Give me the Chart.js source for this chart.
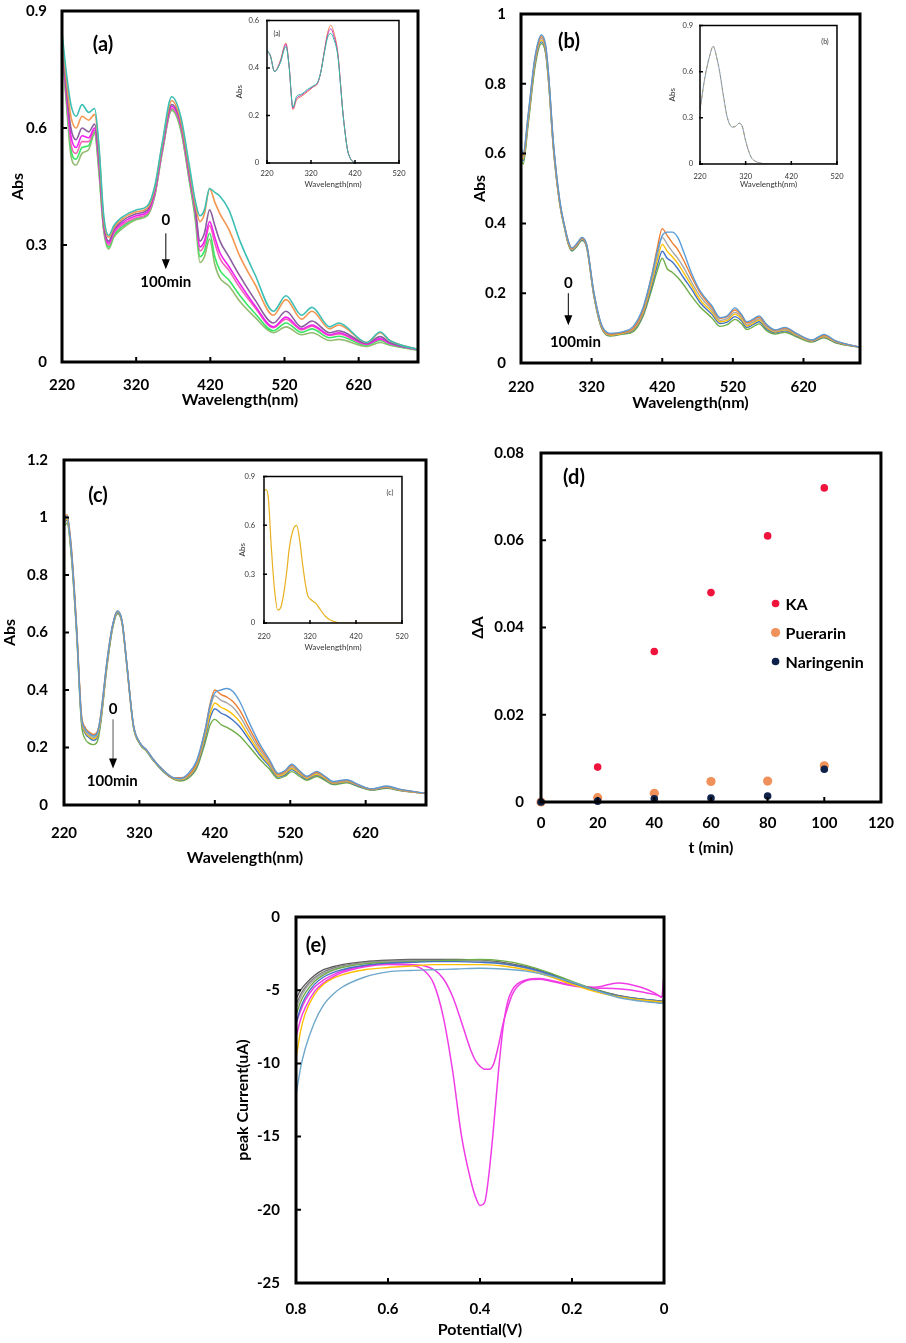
<!DOCTYPE html>
<html>
<head>
<meta charset="utf-8">
<script src="https://cdn.jsdelivr.net/npm/chart.js@4.4.0/dist/chart.umd.min.js"></script>
<style>
  body { margin: 0; width: 906px; height: 1343px; background: #fff; position: relative; overflow: hidden; font-family: Lato, 'DejaVu Sans', sans-serif; }
  canvas { position: absolute; }
  .lbl { position: absolute; transform: translate(-50%, -50%); font-weight: bold; font-size: 20px; color: #000; white-space: nowrap; }
  .ilbl { position: absolute; transform: translate(-50%, -50%); font-size: 7px; color: #333; }
</style>
</head>
<body>
<canvas id="cA"></canvas>
<canvas id="cB"></canvas>
<canvas id="cC"></canvas>
<canvas id="cD"></canvas>
<canvas id="cE"></canvas>
<canvas id="iA"></canvas>
<canvas id="iB"></canvas>
<canvas id="iC"></canvas>
<div class="lbl" style="left:103px;top:43px">(a)</div>
<div class="lbl" style="left:569px;top:40px">(b)</div>
<div class="lbl" style="left:98px;top:494px">(c)</div>
<div class="lbl" style="left:574px;top:476px">(d)</div>
<div class="lbl" style="left:316px;top:944px">(e)</div>
<div class="ilbl" style="left:277px;top:33px">(a)</div>
<div class="ilbl" style="left:825px;top:41px">(b)</div>
<div class="ilbl" style="left:390px;top:492px">(c)</div>
<script>
// ---- panel (a): KA spectra, 0 -> 100 min ----
const A_WL = [220,226,232,239,247,256,264,270,276,283,290,300,320,335,345,355,368,380,392,400,406,412,419,426,433,445,460,480,505,522,543,557,581,593,631,649,662,700];
const A_S1 = [0.845,0.74,0.66,0.63,0.66,0.64,0.65,0.55,0.38,0.325,0.35,0.37,0.39,0.40,0.45,0.56,0.68,0.63,0.5,0.41,0.375,0.39,0.445,0.435,0.425,0.39,0.31,0.225,0.13,0.17,0.12,0.14,0.09,0.1,0.05,0.077,0.055,0.032];
const A_S2 = [0.83,0.72,0.63,0.60,0.63,0.62,0.635,0.54,0.37,0.32,0.345,0.365,0.385,0.395,0.445,0.555,0.67,0.62,0.49,0.4,0.36,0.38,0.445,0.41,0.38,0.34,0.27,0.2,0.12,0.16,0.11,0.13,0.085,0.095,0.05,0.075,0.055,0.032];
const A_S3 = [0.82,0.7,0.6,0.57,0.6,0.59,0.61,0.52,0.36,0.31,0.34,0.36,0.38,0.39,0.44,0.55,0.66,0.615,0.48,0.39,0.31,0.33,0.39,0.35,0.31,0.27,0.22,0.16,0.1,0.13,0.09,0.105,0.075,0.08,0.048,0.065,0.05,0.032];
const A_S4 = [0.82,0.69,0.58,0.55,0.58,0.575,0.6,0.51,0.355,0.305,0.335,0.355,0.375,0.385,0.435,0.545,0.655,0.61,0.475,0.385,0.295,0.31,0.36,0.32,0.28,0.245,0.2,0.145,0.09,0.115,0.085,0.095,0.07,0.075,0.046,0.06,0.048,0.032];
const A_S5 = [0.81,0.68,0.56,0.535,0.565,0.565,0.595,0.5,0.35,0.3,0.33,0.35,0.37,0.38,0.43,0.54,0.65,0.605,0.47,0.38,0.285,0.3,0.35,0.305,0.265,0.235,0.19,0.14,0.088,0.11,0.082,0.092,0.068,0.072,0.045,0.058,0.047,0.031];
const A_S6 = [0.81,0.67,0.545,0.52,0.55,0.555,0.59,0.49,0.345,0.295,0.325,0.345,0.368,0.378,0.428,0.538,0.648,0.6,0.465,0.37,0.27,0.285,0.33,0.27,0.235,0.21,0.17,0.125,0.08,0.1,0.076,0.085,0.062,0.066,0.043,0.055,0.045,0.031];
const A_S7 = [0.8,0.66,0.53,0.505,0.535,0.545,0.585,0.48,0.34,0.29,0.32,0.34,0.365,0.375,0.425,0.535,0.645,0.595,0.46,0.36,0.255,0.27,0.315,0.25,0.215,0.195,0.155,0.115,0.075,0.09,0.07,0.075,0.055,0.058,0.04,0.05,0.043,0.03];

// inset (a)
const IA_WL = [220,228,237,250,263,270,279,287,298,312,325,335,342,351,358,365,372,381,387,392,398,403,408,414,425,520];
const IA_S1 = [0.475,0.45,0.385,0.43,0.505,0.415,0.225,0.265,0.28,0.3,0.32,0.335,0.38,0.48,0.55,0.58,0.55,0.465,0.34,0.225,0.122,0.056,0.025,0.008,0,0];
const IA_S2 = [0.475,0.45,0.385,0.425,0.5,0.412,0.23,0.272,0.285,0.305,0.322,0.337,0.38,0.475,0.54,0.565,0.535,0.458,0.335,0.222,0.121,0.055,0.025,0.008,0,0];
const IA_S3 = [0.475,0.45,0.385,0.42,0.49,0.41,0.235,0.28,0.29,0.31,0.325,0.34,0.38,0.47,0.53,0.545,0.52,0.45,0.33,0.22,0.12,0.055,0.025,0.008,0,0];

// ---- panel (b) ----
const B_WL = [220,223,230,240,249,255,259,266,275,282,287,292,300,306,313,323,334,346,365,379,393,405,413,420,427,434,442,450,462,474,490,502,512,523,532,540,548,557,568,580,594,610,632,649,665,700];
const B_S1 = [0.62,0.6,0.71,0.88,0.94,0.91,0.83,0.63,0.465,0.39,0.35,0.33,0.345,0.36,0.34,0.205,0.11,0.085,0.09,0.105,0.16,0.25,0.32,0.365,0.375,0.375,0.36,0.32,0.255,0.205,0.165,0.13,0.135,0.158,0.14,0.118,0.125,0.135,0.11,0.095,0.102,0.085,0.066,0.082,0.064,0.045];
const B_S2 = [0.615,0.595,0.705,0.875,0.935,0.905,0.825,0.625,0.46,0.39,0.348,0.328,0.343,0.358,0.338,0.203,0.108,0.083,0.088,0.1,0.155,0.25,0.33,0.385,0.365,0.345,0.325,0.295,0.245,0.2,0.16,0.128,0.133,0.152,0.137,0.115,0.122,0.132,0.108,0.094,0.1,0.084,0.065,0.08,0.063,0.045];
const B_S3 = [0.61,0.59,0.7,0.87,0.93,0.9,0.82,0.62,0.46,0.388,0.346,0.326,0.341,0.356,0.336,0.2,0.106,0.082,0.087,0.098,0.15,0.24,0.31,0.36,0.34,0.32,0.3,0.275,0.23,0.19,0.153,0.122,0.127,0.145,0.132,0.11,0.117,0.127,0.104,0.091,0.097,0.082,0.064,0.078,0.062,0.045];
const B_S4 = [0.605,0.585,0.695,0.865,0.925,0.895,0.815,0.618,0.458,0.386,0.344,0.325,0.34,0.355,0.335,0.198,0.104,0.08,0.086,0.096,0.145,0.23,0.295,0.34,0.32,0.305,0.285,0.26,0.22,0.18,0.147,0.118,0.122,0.14,0.127,0.106,0.113,0.123,0.101,0.089,0.095,0.08,0.063,0.076,0.061,0.045];
const B_S5 = [0.6,0.58,0.69,0.86,0.92,0.89,0.81,0.615,0.456,0.385,0.342,0.323,0.338,0.353,0.333,0.196,0.102,0.079,0.085,0.094,0.14,0.22,0.28,0.32,0.3,0.29,0.27,0.245,0.21,0.172,0.14,0.113,0.117,0.133,0.121,0.102,0.109,0.118,0.097,0.087,0.092,0.078,0.062,0.074,0.06,0.045];
const B_S6 = [0.59,0.57,0.68,0.85,0.915,0.885,0.805,0.61,0.453,0.383,0.34,0.321,0.336,0.351,0.331,0.194,0.1,0.077,0.083,0.09,0.135,0.21,0.265,0.3,0.27,0.26,0.245,0.225,0.19,0.16,0.13,0.105,0.11,0.125,0.113,0.096,0.103,0.112,0.092,0.083,0.088,0.075,0.06,0.072,0.058,0.045];

// inset (b)
const IB_WL = [220,230,241,249,256,263,272,280,291,298,306,313,320,331,340,350,365,420,520];
const IB_S1 = [0.35,0.55,0.7,0.765,0.7,0.6,0.43,0.3,0.24,0.245,0.265,0.24,0.15,0.05,0.02,0.008,0,0,0];

// ---- panel (c) ----
const C_WL = [220,224,230,237,243,248,253,259,264,268,277,284,291,297,303,312,321,330,338,352,365,374,383,396,407,414,420,428,436,444,453,465,480,492,504,513,522,532,542,555,566,577,595,610,628,648,665,700];
const C_S1 = [0.995,1.005,0.88,0.6,0.31,0.265,0.25,0.24,0.25,0.3,0.5,0.62,0.675,0.64,0.5,0.28,0.215,0.19,0.16,0.12,0.095,0.092,0.105,0.155,0.26,0.35,0.39,0.4,0.405,0.395,0.36,0.29,0.21,0.16,0.11,0.12,0.142,0.12,0.1,0.117,0.1,0.082,0.088,0.072,0.056,0.066,0.055,0.04];
const C_S2 = [1.0,1.01,0.89,0.61,0.32,0.27,0.255,0.245,0.255,0.3,0.5,0.62,0.675,0.64,0.5,0.28,0.215,0.19,0.16,0.12,0.095,0.095,0.1,0.15,0.26,0.355,0.4,0.385,0.375,0.36,0.33,0.27,0.2,0.155,0.107,0.117,0.138,0.117,0.098,0.114,0.098,0.08,0.086,0.07,0.055,0.064,0.054,0.04];
const C_S3 = [0.99,1.0,0.875,0.6,0.31,0.26,0.245,0.235,0.245,0.29,0.495,0.618,0.672,0.638,0.498,0.278,0.214,0.189,0.159,0.119,0.094,0.09,0.098,0.145,0.25,0.34,0.38,0.365,0.355,0.34,0.31,0.255,0.19,0.148,0.104,0.113,0.133,0.114,0.096,0.111,0.096,0.078,0.084,0.069,0.055,0.063,0.053,0.04];
const C_S4 = [0.985,0.995,0.87,0.595,0.305,0.255,0.24,0.23,0.24,0.285,0.49,0.615,0.67,0.636,0.496,0.276,0.213,0.188,0.158,0.118,0.093,0.088,0.096,0.14,0.24,0.32,0.355,0.34,0.33,0.315,0.29,0.24,0.18,0.142,0.1,0.109,0.128,0.11,0.093,0.107,0.093,0.076,0.082,0.068,0.054,0.062,0.052,0.04];
const C_S5 = [0.98,0.99,0.865,0.59,0.3,0.25,0.235,0.225,0.235,0.28,0.487,0.612,0.668,0.634,0.494,0.275,0.212,0.187,0.157,0.117,0.092,0.086,0.094,0.135,0.23,0.305,0.335,0.32,0.31,0.295,0.272,0.228,0.172,0.136,0.097,0.105,0.123,0.106,0.09,0.104,0.09,0.074,0.08,0.066,0.053,0.06,0.051,0.04];
const C_S6 = [0.97,0.98,0.855,0.58,0.285,0.23,0.215,0.21,0.22,0.27,0.48,0.608,0.665,0.63,0.49,0.272,0.21,0.185,0.155,0.115,0.09,0.083,0.09,0.128,0.215,0.28,0.298,0.28,0.27,0.258,0.24,0.205,0.158,0.126,0.092,0.1,0.116,0.1,0.086,0.099,0.086,0.071,0.077,0.064,0.052,0.058,0.05,0.04];

// inset (c)
const IC_WL = [220,224,229,236,243,250,257,264,270,275,283,291,298,304,310,315,324,333,343,354,363,371,385,420,520];
const IC_S1 = [0.81,0.82,0.78,0.46,0.2,0.08,0.1,0.2,0.33,0.46,0.57,0.6,0.5,0.36,0.24,0.17,0.14,0.12,0.08,0.04,0.02,0.01,0,0,0];

const SPEC_TICKS = [220, 320, 420, 520, 620];
const INSET_TICKS = [220, 320, 420, 520];

// ---- panel (d): delta A vs time ----
const D_T = [0, 20, 40, 60, 80, 100];
const D_KA = [0, 0.008, 0.0345, 0.048, 0.061, 0.072];
const D_PUERARIN = [0, 0.001, 0.002, 0.0047, 0.0048, 0.0083];
const D_NARINGENIN = [0, 0.0002, 0.00075, 0.0009, 0.00135, 0.0075];

// ---- panel (e): voltammograms ----
const E_V = [0.8,0.79,0.78,0.76,0.74,0.72,0.7,0.65,0.6,0.55,0.5,0.45,0.4,0.35,0.3,0.25,0.2,0.15,0.1,0.05,0.02,0.005,0];
const E_DARKGRAY = [-5.6,-5.0,-4.6,-4.0,-3.6,-3.4,-3.25,-3.05,-2.95,-2.9,-2.9,-2.9,-2.95,-3.1,-3.4,-3.85,-4.45,-4.95,-5.35,-5.6,-5.7,-5.75,-5.6];
const E_GRAY = [-6.0,-5.3,-4.8,-4.15,-3.75,-3.5,-3.35,-3.1,-3.0,-2.95,-2.95,-2.95,-3.0,-3.15,-3.45,-3.9,-4.5,-5.0,-5.4,-5.65,-5.75,-5.8,-5.7];
const E_LIGHTGRAY = [-6.3,-5.5,-4.95,-4.25,-3.85,-3.6,-3.4,-3.15,-3.05,-3.0,-3.0,-3.0,-3.0,-3.2,-3.5,-3.95,-4.55,-5.05,-5.45,-5.7,-5.8,-5.85,-5.7];
const E_GREEN = [-6.7,-5.8,-5.2,-4.4,-3.95,-3.65,-3.45,-3.2,-3.1,-3.05,-3.0,-2.95,-2.9,-3.0,-3.3,-3.8,-4.4,-4.95,-5.4,-5.65,-5.75,-5.8,-5.6];
const E_BLUE = [-7.3,-6.2,-5.5,-4.6,-4.1,-3.8,-3.6,-3.3,-3.15,-3.1,-3.05,-3.05,-3.1,-3.2,-3.45,-3.9,-4.5,-5.0,-5.4,-5.6,-5.7,-5.75,-5.6];
const E_YELLOW = [-9.7,-7.8,-6.6,-5.3,-4.6,-4.2,-3.95,-3.6,-3.45,-3.35,-3.25,-3.25,-3.25,-3.35,-3.6,-4.05,-4.6,-5.1,-5.45,-5.65,-5.75,-5.8,-5.7];
const E_LIGHTBLUE = [-12.2,-10.3,-9.0,-7.2,-6.0,-5.3,-4.8,-4.1,-3.75,-3.65,-3.6,-3.55,-3.5,-3.55,-3.7,-4.0,-4.45,-5.0,-5.5,-5.75,-5.85,-5.9,-5.8];
const E_VP = [0.8,0.79,0.78,0.76,0.74,0.72,0.7,0.65,0.6,0.55,0.52,0.5,0.48,0.46,0.44,0.42,0.41,0.4,0.39,0.38,0.37,0.36,0.35,0.34,0.33,0.32,0.3,0.27,0.25,0.2,0.15,0.1,0.05,0.02,0.01,0.005,0];
const E_PEAK_BIG = [-8.2,-7.0,-6.2,-5.1,-4.5,-4.1,-3.8,-3.4,-3.25,-3.3,-3.7,-4.6,-6.8,-10.4,-15.0,-18.0,-19.1,-19.7,-19.5,-17.4,-14.2,-10.6,-7.6,-5.8,-5.0,-4.6,-4.3,-4.2,-4.3,-4.65,-4.8,-4.5,-4.8,-5.2,-5.4,-5.5,-3.9];
const E_PEAK_SMALL = [-7.3,-6.4,-5.7,-4.8,-4.3,-3.95,-3.7,-3.35,-3.2,-3.25,-3.35,-3.6,-4.2,-5.4,-7.2,-9.1,-9.8,-10.2,-10.4,-10.4,-10.0,-8.8,-7.3,-6.2,-5.3,-4.8,-4.35,-4.25,-4.35,-4.7,-4.85,-4.9,-5.1,-5.3,-5.4,-5.45,-5.3];

Chart.defaults.font.family = "Lato, 'DejaVu Sans', sans-serif";
Chart.defaults.color = '#000';
Chart.defaults.animation = false;

const fmt = v => String(Math.round(v * 10000) / 10000);
const xy = (xs, ys) => xs.map((x, i) => ({ x: x, y: ys[i] }));

// box around the plot area, with small inward tick marks
const frame = {
  id: 'frame',
  afterDatasetsDraw(chart, args, o) {
    const ctx = chart.ctx, a = chart.chartArea;
    const xs = chart.scales.x, ys = chart.scales.y;
    ctx.save();
    ctx.strokeStyle = '#000';
    ctx.lineWidth = o.tickWidth;
    ctx.beginPath();
    xs.ticks.forEach(t => { const p = xs.getPixelForValue(t.value); ctx.moveTo(p, a.bottom + 1); ctx.lineTo(p, a.bottom - o.tick); });
    ys.ticks.forEach(t => { const p = ys.getPixelForValue(t.value); ctx.moveTo(a.left - 1, p); ctx.lineTo(a.left + o.tick, p); });
    ctx.stroke();
    ctx.lineWidth = o.width;
    ctx.strokeRect(a.left, a.top, a.right - a.left, a.bottom - a.top);
    ctx.restore();
  }
};

// "0 -> 100min" arrows and other text placed in data units
const notes = {
  id: 'notes',
  afterDraw(chart, args, o) {
    const ctx = chart.ctx, xs = chart.scales.x, ys = chart.scales.y;
    ctx.save();
    (o.arrows || []).forEach(ar => {
      const x = xs.getPixelForValue(ar.x), y1 = ys.getPixelForValue(ar.y1), y2 = ys.getPixelForValue(ar.y2);
      ctx.strokeStyle = ar.color; ctx.fillStyle = '#000'; ctx.lineWidth = 1;
      ctx.beginPath(); ctx.moveTo(x, y1); ctx.lineTo(x, y2 - 8); ctx.stroke();
      ctx.beginPath(); ctx.moveTo(x - 4, y2 - 10); ctx.lineTo(x + 4, y2 - 10); ctx.lineTo(x, y2); ctx.closePath(); ctx.fill();
    });
    (o.texts || []).forEach(t => {
      ctx.font = 'bold 15px Lato, sans-serif'; ctx.fillStyle = '#000';
      ctx.textAlign = 'center'; ctx.textBaseline = 'middle';
      ctx.fillText(t.text, xs.getPixelForValue(t.x), ys.getPixelForValue(t.y));
    });
    ctx.restore();
  }
};

// legend drawn inside the plot area of (d)
const innerLegend = {
  id: 'innerLegend',
  afterDraw(chart, args, o) {
    if (!o.show) return;
    const ctx = chart.ctx, xs = chart.scales.x, ys = chart.scales.y;
    const x = xs.getPixelForValue(o.x);
    ctx.save();
    chart.data.datasets.forEach((ds, i) => {
      const y = ys.getPixelForValue(o.y) + i * o.gap;
      ctx.fillStyle = ds.backgroundColor;
      ctx.beginPath(); ctx.arc(x, y, ds.pointRadius, 0, Math.PI * 2); ctx.fill();
      ctx.fillStyle = '#000'; ctx.font = 'bold 16px Lato, sans-serif';
      ctx.textAlign = 'left'; ctx.textBaseline = 'middle';
      ctx.fillText(ds.label, x + 10, y + 1);
    });
    ctx.restore();
  }
};

// shallow merge that keeps the base ticks settings
function withTicks(base, opt) {
  const o = Object.assign({}, base, opt || {});
  o.ticks = Object.assign({}, base.ticks, (opt && opt.ticks) || {});
  return o;
}

function makeChart(id, g, type, datasets, xOpt, yOpt, extra) {
  const c = document.getElementById(id);
  const x0 = g.l - g.left, y0 = g.t - g.top;
  const w = g.r + g.right - x0, h = g.b + g.bottom - y0;
  c.width = w; c.height = h;
  c.style.left = x0 + 'px'; c.style.top = y0 + 'px';
  c.style.width = w + 'px'; c.style.height = h + 'px';
  const lh = g.title * 1.2;
  const ticksFont = { size: g.tick, weight: g.weight };
  const titleFont = { size: g.title, weight: g.weight };
  const noGrid = { display: false, drawTicks: false };
  return new Chart(c, {
    type: type,
    data: { datasets: datasets },
    options: {
      responsive: false,
      animation: false,
      layout: { padding: { top: g.top, right: g.right, left: 0, bottom: 0 } },
      plugins: Object.assign({ legend: { display: false }, tooltip: { enabled: false },
        frame: { width: g.frame, tick: g.tickLen, tickWidth: g.tickW } }, extra || {}),
      scales: {
        x: withTicks({
          type: 'linear',
          afterFit: s => { s.height = g.bottom; },
          grid: noGrid, border: { display: false },
          ticks: { font: ticksFont, color: g.color, padding: g.xPad, maxRotation: 0, autoSkip: false, callback: fmt },
          title: { display: true, text: g.xTitle, font: titleFont, color: g.color,
                   padding: { top: 0, bottom: g.b + g.bottom - g.xTitleY - lh / 2 } }
        }, xOpt),
        y: withTicks({
          type: 'linear',
          afterFit: s => { s.width = g.left; },
          grid: noGrid, border: { display: false },
          ticks: { font: ticksFont, color: g.color, padding: g.yPad, autoSkip: false, callback: fmt },
          title: { display: true, text: g.yTitle, font: titleFont, color: g.color,
                   padding: { top: g.yTitleX - x0 - lh / 2, bottom: 0 } }
        }, yOpt)
      }
    },
    plugins: [frame, notes, innerLegend]
  });
}

function lines(xs, series, colors, width) {
  return series.map((ys, i) => ({
    label: 'curve ' + (i + 1),
    data: xy(xs, ys),
    borderColor: colors[i],
    backgroundColor: colors[i],
    borderWidth: width,
    pointRadius: 0,
    fill: false,
    cubicInterpolationMode: 'monotone'
  }));
}

const mainStyle = { tick: 15, title: 16, weight: 'bold', color: '#000', frame: 3, tickLen: 5, tickW: 2 };
const insetStyle = { tick: 7.5, title: 8, weight: 'normal', color: '#333', frame: 1.5, tickLen: 3, tickW: 1.5 };
const specX = (min, max, ticks) => ({ min: min, max: max, afterBuildTicks: s => { s.ticks = ticks.map(v => ({ value: v })); } });

const A_COLORS = ['#3cbfb4', '#f5964f', '#8b5e9e', '#f020f0', '#f262b8', '#38e864', '#94bc70'];
const SIX_COLORS = ['#5b9bd5', '#ed7d31', '#a5a5a5', '#ffc000', '#4472c4', '#70ad47'];

// (a)
makeChart('cA', Object.assign({ l: 62, t: 7, r: 418, b: 362, left: 62, top: 20, right: 25, bottom: 52,
  xPad: 14, yPad: 15, xTitleY: 400, yTitleX: 18, xTitle: 'Wavelength(nm)', yTitle: 'Abs' }, mainStyle),
  'line', lines(A_WL, [A_S1, A_S2, A_S3, A_S4, A_S5, A_S6, A_S7], A_COLORS, 1.6),
  specX(220, 700, SPEC_TICKS), { min: 0, max: 0.9, ticks: { stepSize: 0.3 } },
  { notes: { arrows: [{ x: 360, y1: 0.33, y2: 0.238, color: '#000' }],
             texts: [{ text: '0', x: 360, y: 0.363 }, { text: '100min', x: 360, y: 0.205 }] } });

// (b)
makeChart('cB', Object.assign({ l: 521, t: 10, r: 860, b: 363, left: 60, top: 20, right: 25, bottom: 52,
  xPad: 15, yPad: 15, xTitleY: 403, yTitleX: 480, xTitle: 'Wavelength(nm)', yTitle: 'Abs' }, mainStyle),
  'line', lines(B_WL, [B_S1, B_S2, B_S3, B_S4, B_S5, B_S6], SIX_COLORS, 1.4),
  specX(220, 700, SPEC_TICKS), { min: 0, max: 1, ticks: { stepSize: 0.2 } },
  { notes: { arrows: [{ x: 287, y1: 0.2, y2: 0.108, color: '#000' }],
             texts: [{ text: '0', x: 287, y: 0.229 }, { text: '100min', x: 297, y: 0.06 }] } });

// (c)
makeChart('cC', Object.assign({ l: 64, t: 455, r: 426, b: 805, left: 64, top: 20, right: 25, bottom: 66,
  xPad: 19, yPad: 16, xTitleY: 858, yTitleX: 10, xTitle: 'Wavelength(nm)', yTitle: 'Abs' }, mainStyle),
  'line', lines(C_WL, [C_S1, C_S2, C_S3, C_S4, C_S5, C_S6], SIX_COLORS, 1.4),
  specX(220, 700, SPEC_TICKS), { min: 0, max: 1.2, ticks: { stepSize: 0.2 } },
  { notes: { arrows: [{ x: 285, y1: 0.298, y2: 0.127, color: '#555' }],
             texts: [{ text: '0', x: 285, y: 0.333 }, { text: '100min', x: 284, y: 0.082 }] } });

// (d)
const D_SERIES = [
  { label: 'KA', ys: D_KA, color: '#f0143c', r: 3.8, order: 2 },
  { label: 'Puerarin', ys: D_PUERARIN, color: '#f0905a', r: 4.6, order: 1 },
  { label: 'Naringenin', ys: D_NARINGENIN, color: '#0d2149', r: 3.8, order: 0 }
];
makeChart('cD', Object.assign({ l: 541, t: 447, r: 889, b: 802, left: 80, top: 20, right: 17, bottom: 60,
  xPad: 12, yPad: 17, xTitleY: 848, yTitleX: 478, xTitle: 't (min)', yTitle: 'ΔA' }, mainStyle),
  'scatter', D_SERIES.map(s => ({ label: s.label, data: xy(D_T, s.ys), backgroundColor: s.color, borderWidth: 0,
    pointRadius: s.r, order: s.order, clip: false })),
  { min: 0, max: 120, ticks: { stepSize: 20 } }, { min: 0, max: 0.08, ticks: { stepSize: 0.02 } },
  { innerLegend: { show: true, x: 82.8, y: 0.0455, gap: 29 } });

// (e)
const E_BG = [E_LIGHTBLUE, E_YELLOW, E_BLUE, E_GREEN, E_LIGHTGRAY, E_GRAY, E_DARKGRAY];
const E_BG_COLORS = ['#6fa8cc', '#ffc000', '#4472c4', '#70ad47', '#a5a5a5', '#7f7f7f', '#595959'];
const E_SETS = lines(E_V, E_BG, E_BG_COLORS, 1.4).concat(
  lines(E_VP, [E_PEAK_BIG, E_PEAK_SMALL], ['#f03ce6', '#f03ce6'], 1.5));
makeChart('cE', Object.assign({ l: 296, t: 912, r: 664, b: 1283, left: 70, top: 20, right: 25, bottom: 58,
  xPad: 17, yPad: 16, xTitleY: 1330, yTitleX: 243, xTitle: 'Potential(V)', yTitle: 'peak Current(uA)' }, mainStyle),
  'line', E_SETS,
  { min: 0, max: 0.8, reverse: true, ticks: { stepSize: 0.2 } }, { min: -25, max: 0, ticks: { stepSize: 5 } });

// insets
makeChart('iA', Object.assign({ l: 267, t: 18, r: 400, b: 163, left: 35, top: 10, right: 12, bottom: 28,
  xPad: 6.5, yPad: 8, xTitleY: 184, yTitleX: 239, xTitle: 'Wavelength(nm)', yTitle: 'Abs' }, insetStyle),
  'line', lines(IA_WL, [IA_S3, IA_S2, IA_S1], ['#30c0a0', '#c040c0', '#f07850'], 1),
  specX(220, 520, INSET_TICKS), { min: 0, max: 0.6, ticks: { stepSize: 0.2 } });

makeChart('iB', Object.assign({ l: 700, t: 24, r: 840, b: 164, left: 35, top: 10, right: 12, bottom: 28,
  xPad: 8.5, yPad: 7, xTitleY: 184, yTitleX: 672, xTitle: 'Wavelength(nm)', yTitle: 'Abs' }, insetStyle),
  'line', lines(IB_WL, [IB_S1, IB_S1], ['#8497b0', '#e0b030'], 1).map((d, i) => Object.assign(d, { borderDash: i ? [3, 3] : [] })),
  specX(220, 520, INSET_TICKS), { min: 0, max: 0.9, ticks: { stepSize: 0.3 } });

makeChart('iC', Object.assign({ l: 264, t: 473, r: 406, b: 623, left: 35, top: 10, right: 12, bottom: 30,
  xPad: 9.5, yPad: 9, xTitleY: 647, yTitleX: 242, xTitle: 'Wavelength(nm)', yTitle: 'Abs' }, insetStyle),
  'line', lines(IC_WL, [IC_S1], ['#e8b020'], 1.2),
  specX(220, 520, INSET_TICKS), { min: 0, max: 0.9, ticks: { stepSize: 0.3 } });
</script>
</body>
</html>
